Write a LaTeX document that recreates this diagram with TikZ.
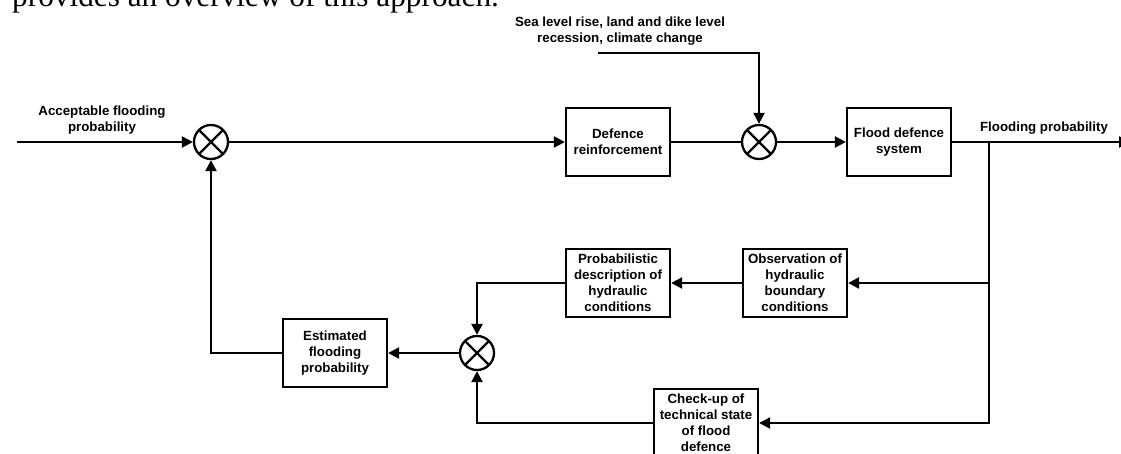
\documentclass[tikz,border=0pt]{standalone}
\usepackage{fontspec}
\setmainfont{Liberation Sans}
\newfontfamily\bodyserif{Liberation Serif}
\usetikzlibrary{arrows.meta}
\begin{document}
\begin{tikzpicture}[x=1pt,y=-1pt,
  every node/.style={font=\fontsize{13.3}{16}\selectfont\bfseries, align=center, inner sep=0pt},
  blockbox/.style={draw, line width=2.3pt, minimum width=104pt, minimum height=68pt},
  mixer/.style={draw, circle, line width=2.3pt, minimum size=34pt},
  wire/.style={line width=2.3pt},
  feed/.style={wire, -{Triangle[length=11pt,width=11pt]}},
]
\useasboundingbox (0,0) rectangle (1121,454);
\clip (0,0) rectangle (1121,454);

% last line of the preceding paragraph
\node[anchor=base west, font=\bodyserif\fontsize{31.3}{36}\selectfont] (intro) at (12,7) {provides an overview of this approach.};

% blocks
\node[blockbox] (defence) at (618,142) {Defence\\reinforcement};
\node[blockbox] (flood)   at (899,142) {Flood defence\\system};
\node[blockbox] (obs)     at (795,283) {Observation of\\hydraulic\\boundary\\conditions};
\node[blockbox] (prob)    at (618,283) {Probabilistic\\description of\\hydraulic\\conditions};
\node[blockbox] (est)     at (335,353) {Estimated\\flooding\\probability};
\node[blockbox] (check)   at (706,423) {Check-up of\\technical state\\of flood\\defence};

% summing junctions
\node[mixer] (c1) at (211,142) {};
\node[mixer] (c2) at (759,142) {};
\node[mixer] (c3) at (477,353) {};
\foreach \c in {c1,c2,c3}{
  \draw[wire] (\c.center) ++(45:17) -- ++(225:34);
  \draw[wire] (\c.center) ++(135:17) -- ++(-45:34);
}

% signal labels
\node (inlabel)  at (102,120) {Acceptable flooding\\probability};
\node (drvlabel) at (620,31)  {Sea level rise, land and dike level\\recession, climate change};
\node (outlabel) at (1044,128) {Flooding probability};

% free ends and branch point
\coordinate (in)  at (17,142);
\coordinate (out) at (1130,142);
\coordinate (drv) at (598,53);
\coordinate (tap) at (989,142);

% forward path
\draw[feed] (in) -- (c1);
\draw[feed] (c1) -- (defence);
\draw[wire] (defence) -- (c2);
\draw[feed] (drv) -| (c2);
\draw[feed] (c2) -- (flood);
\draw[feed] (flood) -- (out);

% feedback paths
\draw[feed] (tap) |- (check);
\draw[feed] (tap |- obs) -- (obs);
\draw[feed] (obs) -- (prob);
\draw[feed] (prob) -| (c3);
\draw[feed] (check) -| (c3);
\draw[feed] (c3) -- (est);
\draw[feed] (est) -| (c1);
\end{tikzpicture}
\end{document}
